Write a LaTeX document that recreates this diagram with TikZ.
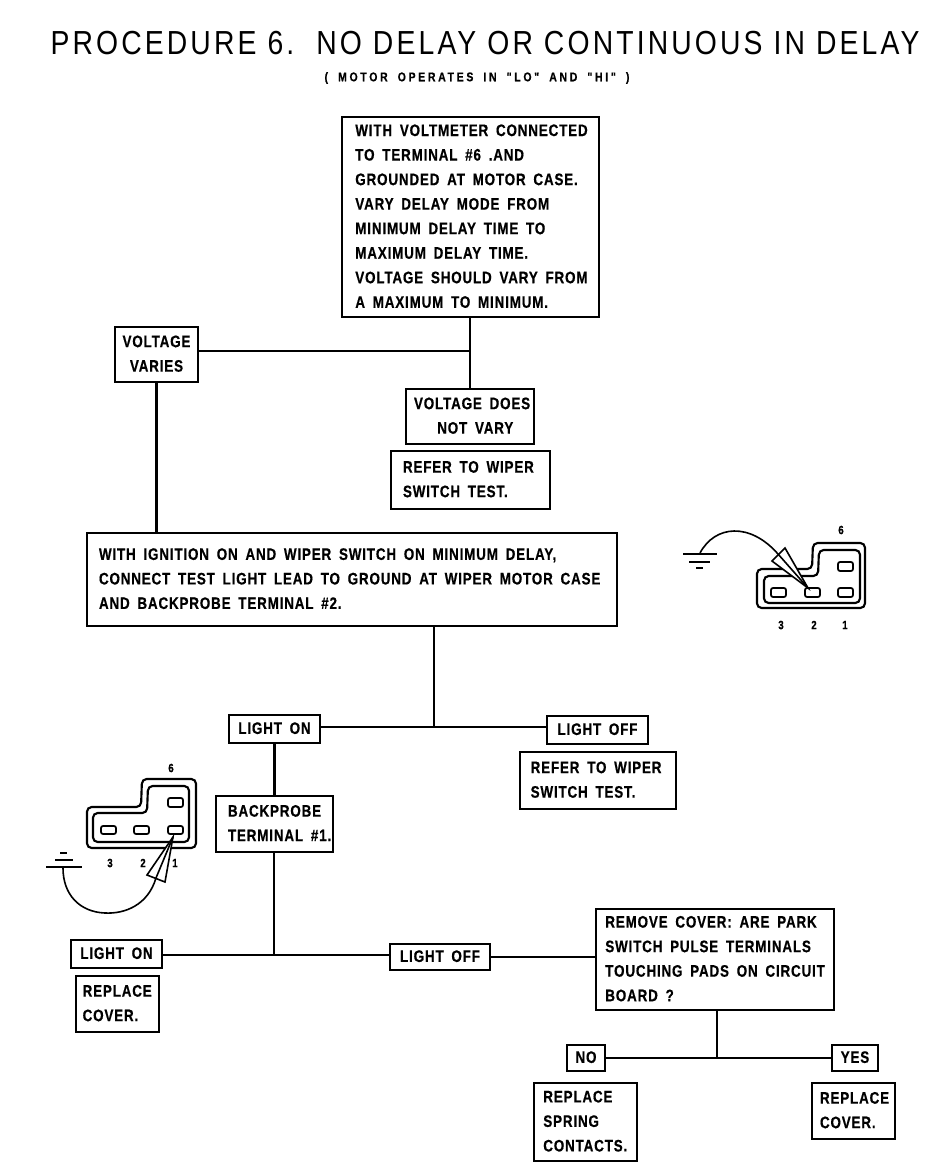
\documentclass[tikz,border=0pt]{standalone}
\usepackage{fontspec}
\setmainfont{Liberation Sans}
\newfontfamily\boxfamily[FakeStretch=0.805,LetterSpace=5,FakeBold=0.5,WordSpace=1.7]{Liberation Sans Bold}
\newfontfamily\subfamily[FakeStretch=0.83,LetterSpace=21,FakeBold=0.5,WordSpace=1.8]{Liberation Sans Bold}
\newfontfamily\titlefamily[FakeStretch=0.85,LetterSpace=9.4]{Liberation Sans}
\tikzset{
  px/.style={x=0.75pt,y=-0.75pt},
  ln/.style={line width=1.7pt,black},
  pbox/.style={draw,line width=1.7pt,inner ysep=0pt,inner xsep=0pt,
    font=\boxfamily\fontsize{12.5}{18.4}\selectfont},
  outline/.style={line width=1.6pt,rounded corners=3.5pt},
  pad/.style={line width=1.3pt,fill=white,rounded corners=1.5pt},
  pinlabel/.style={font=\boxfamily\fontsize{9}{10}\selectfont,inner sep=0pt},
  wire/.style={line width=1.2pt}
}
% [column] name x1 y1 x2 y2 left-margin text
\newcommand{\flowbox}[8][l]{%
  \node[pbox,minimum width={(#5-#3)*0.75pt},minimum height={(#6-#4)*0.75pt},anchor=center] (#2) at ({(#3+#5)/2},{(#4+#6)/2})
   {\hspace*{#7pt}\makebox[\dimexpr(#5pt-#3pt)*3/4-#7pt\relax][#1]{\begin{tabular}{@{}#1@{}}#8\end{tabular}}};}
\begin{document}
\begin{tikzpicture}[px]
\useasboundingbox (0,0) rectangle (944,1168);
\fill[white] (0,0) rectangle (944,1168);
\node[font=\titlefamily\fontsize{25}{25}\selectfont,inner sep=0pt] (title) at (485,43) {PROCEDURE 6.\ \ NO DELAY OR CONTINUOUS IN DELAY};
\node[font=\subfamily\fontsize{9.5}{10}\selectfont,inner sep=0pt] (subtitle) at (477,78) {( MOTOR OPERATES IN "LO" AND "HI" )};

\flowbox{top}{342}{117}{599}{317}{10}{WITH VOLTMETER CONNECTED\\TO TERMINAL \#6 .AND\\GROUNDED AT MOTOR CASE.\\VARY DELAY MODE FROM\\MINIMUM DELAY TIME TO\\MAXIMUM DELAY TIME.\\VOLTAGE SHOULD VARY FROM\\A MAXIMUM TO MINIMUM.}
\flowbox[c]{vvar}{115}{327}{198}{382}{0}{VOLTAGE\\VARIES}
\flowbox{vdoes}{406}{389}{534}{444}{6}{VOLTAGE DOES\\\ \ \ NOT VARY}
\flowbox{refa}{391}{451}{550}{509}{9}{REFER TO WIPER\\SWITCH TEST.}
\flowbox{ign}{87}{533}{617}{626}{9}{WITH IGNITION ON AND WIPER SWITCH ON MINIMUM DELAY,\\CONNECT TEST LIGHT LEAD TO GROUND AT WIPER MOTOR CASE\\AND BACKPROBE TERMINAL \#2.}
\flowbox[c]{lona}{229}{715}{320}{743}{0}{LIGHT ON}
\flowbox[c]{loffa}{547}{716}{648}{744}{0}{LIGHT OFF}
\flowbox{refb}{520}{752}{676}{809}{8}{REFER TO WIPER\\SWITCH TEST.}
\flowbox{back}{216}{796}{333}{852}{9}{BACKPROBE\\TERMINAL \#1.}
\flowbox[c]{lonb}{71}{940}{162}{968}{0}{LIGHT ON}
\flowbox{repa}{76}{976}{159}{1032}{5}{REPLACE\\COVER.}
\flowbox[c]{loffb}{390}{944}{490}{970}{0}{LIGHT OFF}
\flowbox{rem}{596}{909}{834}{1010}{7}{REMOVE COVER: ARE PARK\\SWITCH PULSE TERMINALS\\TOUCHING PADS ON CIRCUIT\\BOARD ?}
\flowbox[c]{no}{567}{1045}{605}{1071}{0}{NO}
\flowbox[c]{yes}{832}{1045}{878}{1071}{0}{YES}
\flowbox{reps}{534}{1083}{637}{1161}{7}{REPLACE\\SPRING\\CONTACTS.}
\flowbox{repc}{812}{1083}{895}{1139}{6}{REPLACE\\COVER.}

\coordinate (j1) at (470,351);
\coordinate (j2) at (434,727);
\coordinate (j3) at (274,955);
\coordinate (j4) at (717,1058);
\draw[ln] (vdoes.north |- top.south) -- (vdoes.north);
\draw[ln] (vvar.east |- j1) -- (j1);
\draw[ln] (vvar.south) -- (vvar.south |- ign.north);
\draw[ln] (j2 |- ign.south) -- (j2);
\draw[ln] (lona.east |- j2) -- (loffa.west |- j2);
\draw[ln] (lona.south) -- (back.north);
\draw[ln] (j3 |- back.south) -- (j3);
\draw[ln] (lonb.east |- j3) -- (loffb.west |- j3);
\draw[ln] (loffb.east) -- (rem.west |- loffb.east);
\draw[ln] (j4 |- rem.south) -- (j4);
\draw[ln] (no.east) -- (yes.west);

% right connector sketch
\draw[outline] (757,590) -- (757,608) -- (865,608) -- (865,543) -- (813,543) -- (812,569) -- (757,569) -- cycle;
\draw[outline] (764,590) -- (764,603) -- (860,603) -- (860,550) -- (819,550) -- (818,576) -- (764,576) -- cycle;
\foreach \xa in {771,805,838} \draw[pad] (\xa,588) rectangle ++(15,9);
\draw[pad] (838,562) rectangle ++(15,9);
\node[pinlabel] (ra6) at (841,530) {6};
\node[pinlabel] (ra3) at (781,625) {3};
\node[pinlabel] (ra2) at (814,625) {2};
\node[pinlabel] (ra1) at (845,625) {1};
\draw[wire,fill=white] (808,588) -- (785,548) -- (772,561) -- cycle;
\draw[wire] (700,553) .. controls (715,525) and (750,522) .. (778,554) -- (808,588);
\draw[line width=1.6pt] (683,554) -- (717,554) (689,562) -- (710,562) (696,568) -- (703,568);

% left connector sketch
\draw[outline] (87,830) -- (87,848) -- (196,848) -- (196,779) -- (142,779) -- (141,807) -- (87,807) -- cycle;
\draw[outline] (93,830) -- (93,842) -- (189,842) -- (189,786) -- (148,786) -- (147,813) -- (93,813) -- cycle;
\foreach \xa in {101,134,168} \draw[pad] (\xa,826) rectangle ++(15,8);
\draw[pad] (168,798) rectangle ++(15,9);
\node[pinlabel] (la6) at (171,768) {6};
\node[pinlabel] (la3) at (110,863) {3};
\node[pinlabel] (la2) at (143,863) {2};
\node[pinlabel] (la1) at (175,863) {1};
\draw[wire,fill=white] (173,837) -- (147,875) -- (165,882) -- cycle;
\draw[wire] (173,837) -- (156,878) .. controls (148,905) and (125,914) .. (105,913) .. controls (80,912) and (63,895) .. (63,868);
\draw[line width=1.6pt] (46,867) -- (82,867) (55,860) -- (73,860) (60,853) -- (67,853);
\end{tikzpicture}
\end{document}
